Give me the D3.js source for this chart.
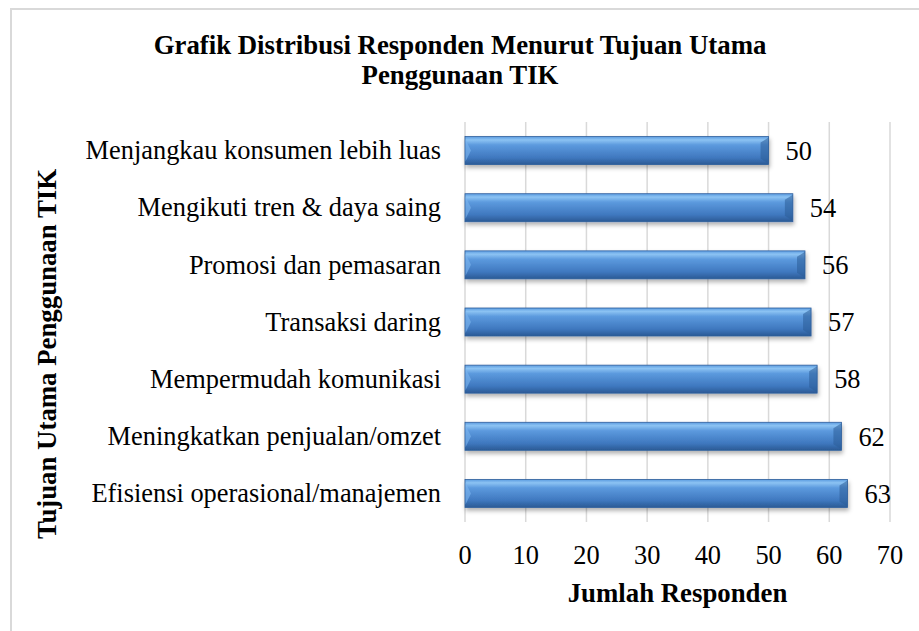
<!DOCTYPE html>
<html>
<head>
<meta charset="utf-8">
<script src="https://cdn.jsdelivr.net/npm/d3@7"></script>
<style>
  body { margin: 0; background: #fff; }
  text { font-family: "Liberation Serif", "Times New Roman", serif; fill: #000; }
</style>
</head>
<body>
<script>
const categories = [
  "Menjangkau konsumen lebih luas",
  "Mengikuti tren & daya saing",
  "Promosi dan pemasaran",
  "Transaksi daring",
  "Mempermudah komunikasi",
  "Meningkatkan penjualan/omzet",
  "Efisiensi operasional/manajemen"
];
const values = [50, 54, 56, 57, 58, 62, 63];
const xTicks = [0, 10, 20, 30, 40, 50, 60, 70];

const W = 919, H = 631;
const plot = { left: 465, right: 890, top: 122, bottom: 522 };
const fs = "26.4px";
const fsBold = "26.8px";

const svg = d3.select("body").append("svg")
    .attr("width", W)
    .attr("height", H);

// chart area border
svg.append("rect")
    .attr("x", 11).attr("y", 9)
    .attr("width", W + 10).attr("height", H + 10)
    .attr("fill", "none")
    .attr("stroke", "#d9d9d9")
    .attr("stroke-width", 2);

const x = d3.scaleLinear().domain([0, 70]).range([plot.left, plot.right]);
const y = d3.scaleBand().domain(categories).range([plot.top, plot.bottom]).paddingInner(0.51).paddingOuter(0.255);

const defs = svg.append("defs");
const grad = defs.append("linearGradient")
    .attr("id", "barGrad")
    .attr("x1", 0).attr("y1", 0).attr("x2", 0).attr("y2", 1);
grad.append("stop").attr("offset", "0%").attr("stop-color", "#5b9be0");
grad.append("stop").attr("offset", "12%").attr("stop-color", "#8cc3f3");
grad.append("stop").attr("offset", "30%").attr("stop-color", "#5c9ade");
grad.append("stop").attr("offset", "75%").attr("stop-color", "#3f78bf");
grad.append("stop").attr("offset", "100%").attr("stop-color", "#2b5a95");

const shadow = defs.append("filter").attr("id", "shadow")
    .attr("x", "-5%").attr("y", "-20%").attr("width", "110%").attr("height", "160%");
shadow.append("feDropShadow")
    .attr("dx", 1).attr("dy", 3).attr("stdDeviation", 2)
    .attr("flood-color", "#000").attr("flood-opacity", 0.3);

// gridlines
svg.append("g")
  .selectAll("line")
  .data(xTicks)
  .join("line")
    .attr("x1", d => x(d)).attr("x2", d => x(d))
    .attr("y1", plot.top).attr("y2", plot.bottom)
    .attr("stroke", "#d9d9d9")
    .attr("stroke-width", 1.5);

// bars
const bars = svg.append("g")
  .selectAll("g")
  .data(categories.map((c, i) => ({ c, v: values[i] })))
  .join("g");

bars.append("rect")
    .attr("x", x(0))
    .attr("y", d => y(d.c))
    .attr("width", d => x(d.v) - x(0))
    .attr("height", y.bandwidth())
    .attr("fill", "url(#barGrad)")
    .attr("stroke", "#2f5f9c")
    .attr("stroke-width", 0.8)
    .attr("filter", "url(#shadow)");

const bev = 6;
// left bevel (lighter)
bars.append("path")
    .attr("d", d => {
      const x0 = x(0), y0 = y(d.c), h = y.bandwidth();
      return `M${x0 + 0.5},${y0 + 3}L${x0 + bev},${y0 + h / 2}L${x0 + 0.5},${y0 + h - 3}Z`;
    })
    .attr("fill", "#7db6ee").attr("opacity", 0.6);
// right bevel (darker)
bars.append("path")
    .attr("d", d => {
      const x1 = x(d.v), y0 = y(d.c), h = y.bandwidth();
      return `M${x1},${y0 + 1}L${x1 - bev - 2},${y0 + bev}L${x1 - bev - 2},${y0 + h - bev}L${x1},${y0 + h - 1}Z`;
    })
    .attr("fill", "#2c5c98").attr("opacity", 0.55);

// value labels
bars.append("text")
    .attr("x", d => x(d.v) + 17)
    .attr("y", d => y(d.c) + y.bandwidth() / 2)
    .attr("dy", "0.35em")
    .style("font-size", fs)
    .text(d => d.v);

// category labels
svg.append("g")
  .selectAll("text")
  .data(categories)
  .join("text")
    .attr("x", 441)
    .attr("y", d => y(d) + y.bandwidth() / 2)
    .attr("dy", "0.33em")
    .attr("text-anchor", "end")
    .style("font-size", fs)
    .text(d => d);

// x tick labels
svg.append("g")
  .selectAll("text")
  .data(xTicks)
  .join("text")
    .attr("x", d => x(d))
    .attr("y", 555)
    .attr("dy", "0.35em")
    .attr("text-anchor", "middle")
    .style("font-size", fs)
    .text(d => d);

// axis titles
svg.append("text")
    .attr("x", (plot.left + plot.right) / 2)
    .attr("y", 593)
    .attr("dy", "0.35em")
    .attr("text-anchor", "middle")
    .style("font-size", fsBold)
    .style("font-weight", "bold")
    .text("Jumlah Responden");

svg.append("text")
    .attr("transform", "translate(47,354) rotate(-90)")
    .attr("dy", "0.35em")
    .attr("text-anchor", "middle")
    .style("font-size", fsBold)
    .style("font-weight", "bold")
    .text("Tujuan Utama Penggunaan TIK");

// title, two separate lines
svg.append("text")
    .attr("x", 460).attr("y", 54)
    .attr("text-anchor", "middle")
    .style("font-size", fsBold)
    .style("font-weight", "bold")
    .text("Grafik Distribusi Responden Menurut Tujuan Utama");
svg.append("text")
    .attr("x", 460).attr("y", 84)
    .attr("text-anchor", "middle")
    .style("font-size", fsBold)
    .style("font-weight", "bold")
    .text("Penggunaan TIK");
</script>
</body>
</html>
